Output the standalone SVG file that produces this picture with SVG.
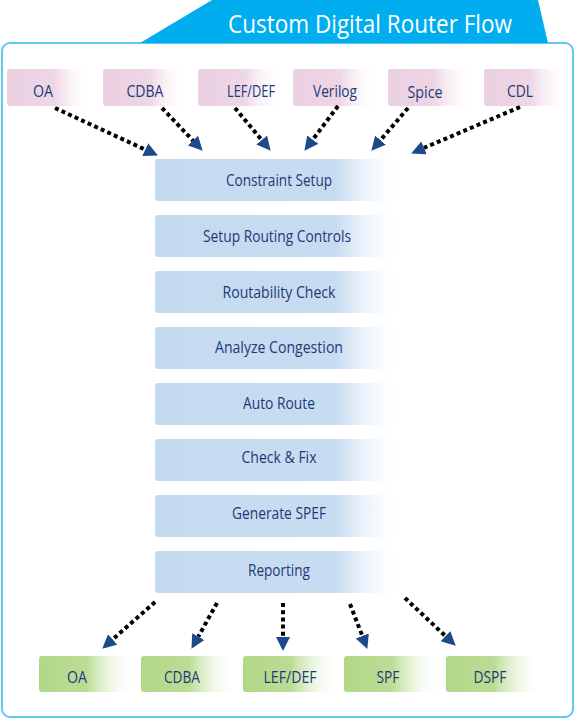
<svg xmlns="http://www.w3.org/2000/svg" width="575" height="719" viewBox="0 0 575 719">
<defs>
<linearGradient id="gPink" x1="0" y1="0" x2="1" y2="0">
<stop offset="0" stop-color="#ead0e1"/>
<stop offset="0.55" stop-color="#eed6e5"/>
<stop offset="1" stop-color="#ffffff" stop-opacity="0"/>
</linearGradient>
<linearGradient id="gBlue" x1="0" y1="0" x2="1" y2="0">
<stop offset="0" stop-color="#c5daf0"/>
<stop offset="0.72" stop-color="#c8dcf1"/>
<stop offset="1" stop-color="#ffffff" stop-opacity="0"/>
</linearGradient>
<linearGradient id="gGreen" x1="0" y1="0" x2="1" y2="0">
<stop offset="0" stop-color="#b2d787"/>
<stop offset="0.5" stop-color="#bcdc95"/>
<stop offset="1" stop-color="#ffffff" stop-opacity="0"/>
</linearGradient>
<marker id="arr" markerUnits="userSpaceOnUse" markerWidth="15" markerHeight="15" refX="0" refY="7" orient="auto">
<path d="M0,0 L14,7 L0,14 z" fill="#1c4a8a"/>
</marker>
</defs>
<style>
.t{font-family:"Open Sans","Liberation Sans",sans-serif;font-size:15.5px;font-weight:500;fill:#1b3a78;text-anchor:middle}
.in{fill:url(#gPink)}
.pr{fill:url(#gBlue)}
.out{fill:url(#gGreen)}
.c{fill:none;stroke:#000;stroke-width:4;stroke-dasharray:4 3.2;marker-end:url(#arr)}
.title{font-family:"Open Sans","Liberation Sans",sans-serif;font-size:25.5px;font-weight:500;fill:#ffffff}
</style>
<rect width="575" height="719" fill="#ffffff"/>
<g id="frame">
<rect x="2" y="43" width="571" height="674" rx="8" fill="#ffffff" stroke="#5ec8ef" stroke-width="2"/>
<polygon points="140,43 212,0 538,0 548,43" fill="#00aeef"/>
<text class="title" x="228" y="33" textLength="284" lengthAdjust="spacingAndGlyphs">Custom Digital Router Flow</text>
</g>
<g id="inputs">
<g id="in-oa"><rect class="in" x="7" y="69" width="85" height="37" rx="3"/><text class="t" x="43" y="97" textLength="20" lengthAdjust="spacingAndGlyphs">OA</text></g>
<g id="in-cdba"><rect class="in" x="103" y="69" width="85" height="37" rx="3"/><text class="t" x="145" y="97" textLength="37" lengthAdjust="spacingAndGlyphs">CDBA</text></g>
<g id="in-lefdef"><rect class="in" x="198" y="69" width="85" height="37" rx="3"/><text class="t" x="251" y="97" textLength="48" lengthAdjust="spacingAndGlyphs">LEF/DEF</text></g>
<g id="in-verilog"><rect class="in" x="293" y="69" width="85" height="37" rx="3"/><text class="t" x="335" y="97" textLength="44" lengthAdjust="spacingAndGlyphs">Verilog</text></g>
<g id="in-spice"><rect class="in" x="388" y="69" width="85" height="37" rx="3"/><text class="t" x="425" y="98" textLength="35" lengthAdjust="spacingAndGlyphs">Spice</text></g>
<g id="in-cdl"><rect class="in" x="484" y="69" width="85" height="37" rx="3"/><text class="t" x="520" y="97" textLength="26" lengthAdjust="spacingAndGlyphs">CDL</text></g>
</g>
<g id="steps">
<g id="s1"><rect class="pr" x="155" y="159" width="252" height="42" rx="3"/><text class="t" x="279" y="186" textLength="106" lengthAdjust="spacingAndGlyphs">Constraint Setup</text></g>
<g id="s2"><rect class="pr" x="155" y="215" width="252" height="42" rx="3"/><text class="t" x="277" y="242" textLength="148" lengthAdjust="spacingAndGlyphs">Setup Routing Controls</text></g>
<g id="s3"><rect class="pr" x="155" y="271" width="252" height="42" rx="3"/><text class="t" x="279" y="298" textLength="113" lengthAdjust="spacingAndGlyphs">Routability Check</text></g>
<g id="s4"><rect class="pr" x="155" y="327" width="252" height="42" rx="3"/><text class="t" x="279" y="353" textLength="128" lengthAdjust="spacingAndGlyphs">Analyze Congestion</text></g>
<g id="s5"><rect class="pr" x="155" y="383" width="252" height="42" rx="3"/><text class="t" x="279" y="409" textLength="72" lengthAdjust="spacingAndGlyphs">Auto Route</text></g>
<g id="s6"><rect class="pr" x="155" y="439" width="252" height="42" rx="3"/><text class="t" x="279" y="463" textLength="75" lengthAdjust="spacingAndGlyphs">Check &amp; Fix</text></g>
<g id="s7"><rect class="pr" x="155" y="495" width="252" height="42" rx="3"/><text class="t" x="279" y="519" textLength="94" lengthAdjust="spacingAndGlyphs">Generate SPEF</text></g>
<g id="s8"><rect class="pr" x="155" y="551" width="252" height="42" rx="3"/><text class="t" x="279" y="576" textLength="62" lengthAdjust="spacingAndGlyphs">Reporting</text></g>
</g>
<g id="outputs">
<g id="out-oa"><rect class="out" x="39" y="656" width="96" height="36" rx="3"/><text class="t" x="77" y="683" textLength="20" lengthAdjust="spacingAndGlyphs">OA</text></g>
<g id="out-cdba"><rect class="out" x="141" y="656" width="96" height="36" rx="3"/><text class="t" x="182" y="683" textLength="36" lengthAdjust="spacingAndGlyphs">CDBA</text></g>
<g id="out-lefdef"><rect class="out" x="243" y="656" width="96" height="36" rx="3"/><text class="t" x="290" y="683" textLength="53" lengthAdjust="spacingAndGlyphs">LEF/DEF</text></g>
<g id="out-spf"><rect class="out" x="344" y="656" width="96" height="36" rx="3"/><text class="t" x="388" y="683" textLength="23" lengthAdjust="spacingAndGlyphs">SPF</text></g>
<g id="out-dspf"><rect class="out" x="446" y="656" width="96" height="36" rx="3"/><text class="t" x="490" y="683" textLength="33" lengthAdjust="spacingAndGlyphs">DSPF</text></g>
</g>
<g id="connectors">
<line class="c" x1="55" y1="108" x2="145.2" y2="149.6"/>
<line class="c" x1="162" y1="108" x2="193" y2="140.6"/>
<line class="c" x1="235" y1="108" x2="261.7" y2="140"/>
<line class="c" x1="338" y1="106" x2="312.8" y2="139.6"/>
<line class="c" x1="408" y1="108" x2="380.5" y2="140.1"/>
<line class="c" x1="520" y1="107" x2="424" y2="147.9"/>
<line class="c" x1="155" y1="602" x2="112.7" y2="639.4"/>
<line class="c" x1="217" y1="603" x2="198.3" y2="636.6"/>
<line class="c" x1="283" y1="603" x2="283" y2="637"/>
<line class="c" x1="350" y1="604" x2="362.3" y2="635.9"/>
<line class="c" x1="405" y1="598" x2="445.5" y2="636.1"/>
</g>
</svg>
